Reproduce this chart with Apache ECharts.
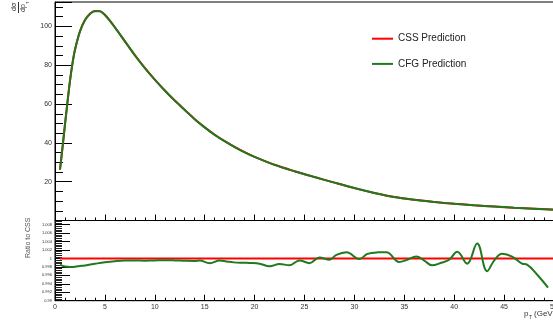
<!DOCTYPE html>
<html>
<head>
<meta charset="utf-8">
<script src="https://cdn.jsdelivr.net/npm/echarts@6/dist/echarts.min.js"></script>
<style>
  html, body { margin: 0; padding: 0; background: #fff; }
  #chart { width: 553px; height: 328px; }
</style>
</head>
<body>
<div id="chart"></div>
<script>
// pT grid (GeV) for the spectrum
const ptPoints = [0.5, 0.75, 1, 1.25, 1.5, 1.75, 2, 2.5, 3, 3.5, 4, 4.5, 5, 5.5, 6, 7, 8, 9, 10, 11, 12, 13, 14, 15, 16, 17, 18, 19, 20, 22, 24, 26, 28, 30, 32, 34, 36, 38, 40, 42, 44, 46, 48, 50];
// dσ/dpT from the CSS prediction
const cssValues = [26.2, 37.5, 49.5, 61.0, 72.0, 81.0, 88.0, 97.5, 103.3, 106.6, 108.0, 107.9, 106.0, 103.0, 99.6, 92.4, 85.2, 78.6, 72.6, 67.0, 61.8, 57.0, 52.2, 48.0, 44.2, 40.9, 37.9, 35.2, 32.8, 28.7, 25.4, 22.4, 19.5, 16.7, 14.2, 12.1, 10.7, 9.6, 8.6, 7.85, 7.2, 6.6, 6.1, 5.6];
// dσ/dpT from the CFG prediction
const cfgValues = [26.16, 37.43, 49.41, 60.9, 71.86, 80.84, 87.84, 97.33, 103.14, 106.46, 107.87, 107.8, 105.9, 102.92, 99.54, 92.35, 85.16, 78.56, 72.57, 66.97, 61.77, 56.97, 52.17, 47.98, 44.16, 40.87, 37.86, 35.16, 32.76, 28.66, 25.38, 22.38, 19.51, 16.72, 14.22, 12.1, 10.7, 9.59, 8.61, 7.83, 7.21, 6.6, 6.08, 5.56];

// Ratio CFG / CSS
const ratioPt = [0.5, 1.0, 1.5, 2.0, 2.5, 3.0, 3.5, 4.0, 5.0, 6.0, 7.0, 8.0, 9.0, 10.0, 11.0, 12.0, 13.0, 14.0, 14.5, 15.5, 16.5, 17.2, 17.9, 19.0, 19.5, 20.5, 21.5, 22.5, 23.5, 24.5, 25.5, 26.5, 27.5, 28.2, 29.2, 30.5, 31.3, 32.3, 33.2, 34.5, 35.3, 36.2, 37.0, 37.8, 38.7, 39.5, 40.3, 41.3, 42.3, 43.3, 44.0, 44.8, 45.8, 46.8, 47.3, 48.3, 49.4];
const ratioValues = [0.99855, 0.9981, 0.998, 0.99805, 0.9982, 0.99835, 0.99855, 0.99875, 0.9991, 0.99935, 0.9995, 0.99952, 0.99948, 0.99955, 0.9996, 0.99955, 0.99945, 0.9994, 0.9995, 0.9989, 0.99954, 0.9993, 0.99908, 0.99898, 0.99894, 0.99878, 0.99815, 0.9987, 0.9984, 0.99954, 0.9989, 1.00023, 0.9997, 1.00085, 1.00147, 0.99986, 1.0011, 1.00145, 1.00147, 0.99917, 0.9997, 1.00046, 0.9995, 0.99838, 0.999, 0.9997, 1.0016, 0.99878, 1.00355, 0.997, 0.9995, 1.0011, 1.00046, 0.99878, 0.99855, 0.9962, 0.9931];
// CSS reference line in the ratio panel
const cssRatioPt = [0.5, 50];
const cssRatioValues = [1, 1];

const ratioTicks = ['0.99', '0.992', '0.994', '0.996', '0.998', '1', '1.002', '1.004', '1.006', '1.008'];

const zip = (xs, ys) => xs.map((x, i) => [x, ys[i]]);

const RED = '#ff0000';
const GREEN = '#1e7a1e';
const FONT = 'Liberation Sans, Arial, sans-serif';

const chart = echarts.init(document.getElementById('chart'), null, { renderer: 'canvas' });

const xAxisCommon = {
  type: 'value', min: 0, max: 50, interval: 5,
  axisLine: { show: true, lineStyle: { color: '#000', width: 1 } },
  axisTick: { show: true, inside: true, length: 6, lineStyle: { color: '#000' } },
  minorTick: { show: true, splitNumber: 5, length: 3, lineStyle: { color: '#000' } },
  splitLine: { show: false }
};

chart.setOption({
  animation: false,
  backgroundColor: '#fff',
  textStyle: { fontFamily: FONT },
  grid: [
    { left: 55, width: 499, top: 2, height: 218.5, outerBoundsMode: 'none', containLabel: false,
      show: true, borderColor: '#000', borderWidth: 1, backgroundColor: 'transparent' },
    { left: 55, width: 499, top: 220.5, height: 80.2, outerBoundsMode: 'none', containLabel: false,
      show: true, borderColor: '#000', borderWidth: 1, backgroundColor: 'transparent' }
  ],
  legend: {
    orient: 'vertical', left: 367, top: 28.7,
    itemWidth: 21, itemHeight: 2, itemGap: 15.2, icon: 'rect',
    textStyle: { fontSize: 10, color: '#222', fontFamily: FONT },
    data: ['CSS Prediction', 'CFG Prediction']
  },
  xAxis: [
    Object.assign({}, xAxisCommon, { gridIndex: 0, axisLabel: { show: false } }),
    Object.assign({}, xAxisCommon, {
      gridIndex: 1,
      axisLabel: { show: true, fontSize: 7, color: '#333', margin: 3, fontFamily: FONT }
    })
  ],
  yAxis: [
    {
      gridIndex: 0, type: 'value', min: 0, max: 112.6, interval: 20,
      axisLine: { show: true, lineStyle: { color: '#000' } },
      axisTick: { show: true, inside: true, length: 17, lineStyle: { color: '#000' } },
      minorTick: { show: true, splitNumber: 4, length: 8, lineStyle: { color: '#000' } },
      splitLine: { show: false },
      axisLabel: { fontSize: 7, color: '#333', margin: 3, showMinLabel: false, showMaxLabel: false, fontFamily: FONT }
    },
    {
      gridIndex: 1, type: 'value', min: 0.99, max: 1.009, interval: 0.002,
      axisLine: { show: true, lineStyle: { color: '#000' } },
      axisTick: { show: true, inside: true, length: 15, lineStyle: { color: '#000' } },
      minorTick: { show: true, splitNumber: 5, length: 7, lineStyle: { color: '#222' } },
      splitLine: { show: false },
      axisLabel: {
        fontSize: 4, color: '#333', margin: 3, showMaxLabel: false, fontFamily: FONT,
        formatter: v => {
          const k = Math.round((v - 0.99) / 0.002);
          return ratioTicks[k] !== undefined ? ratioTicks[k] : '';
        }
      }
    }
  ],
  series: [
    {
      name: 'CSS Prediction', type: 'line', xAxisIndex: 0, yAxisIndex: 0,
      data: zip(ptPoints, cssValues), smooth: 0.3, showSymbol: false, symbol: 'none',
      lineStyle: { color: RED, width: 2 }, itemStyle: { color: RED }, z: 2
    },
    {
      name: 'CFG Prediction', type: 'line', xAxisIndex: 0, yAxisIndex: 0,
      data: zip(ptPoints, cfgValues), smooth: 0.3, showSymbol: false, symbol: 'none',
      lineStyle: { color: GREEN, width: 2 }, itemStyle: { color: GREEN }, z: 3
    },
    {
      name: 'CSS ratio', type: 'line', xAxisIndex: 1, yAxisIndex: 1,
      data: zip(cssRatioPt, cssRatioValues), showSymbol: false, symbol: 'none',
      lineStyle: { color: RED, width: 2 }, z: 2
    },
    {
      name: 'CFG ratio', type: 'line', xAxisIndex: 1, yAxisIndex: 1,
      data: zip(ratioPt, ratioValues), smooth: 0.4, showSymbol: false, symbol: 'none',
      lineStyle: { color: GREEN, width: 2 }, z: 3
    }
  ],
  graphic: [
    // dσ/dpT axis title, drawn as a rotated fraction
    { type: 'text', rotation: Math.PI / 2, x: 11, y: 11,
      style: { text: 'dσ', font: '7px ' + FONT, fill: '#333' } },
    { type: 'line', shape: { x1: 18.5, y1: 2, x2: 18.5, y2: 13 }, style: { stroke: '#333', lineWidth: 1 } },
    { type: 'text', rotation: Math.PI / 2, x: 20, y: 12,
      style: { text: 'dp', font: '7px ' + FONT, fill: '#333' } },
    { type: 'text', rotation: Math.PI / 2, x: 25.5, y: 4,
      style: { text: 'T', font: '4px ' + FONT, fill: '#333' } },
    // Ratio panel title
    { type: 'text', rotation: Math.PI / 2, x: 25, y: 258,
      style: { text: 'Ratio to CSS', font: '7px ' + FONT, fill: '#555' } },
    // x-axis title pT (GeV)
    { type: 'text', x: 524, y: 310, style: { text: 'p', font: '8px ' + FONT, fill: '#333' } },
    { type: 'text', x: 529, y: 315, style: { text: 'T', font: '5px ' + FONT, fill: '#333' } },
    { type: 'text', x: 534, y: 310, style: { text: '(GeV)', font: '8px ' + FONT, fill: '#333' } }
  ]
});
</script>
</body>
</html>
